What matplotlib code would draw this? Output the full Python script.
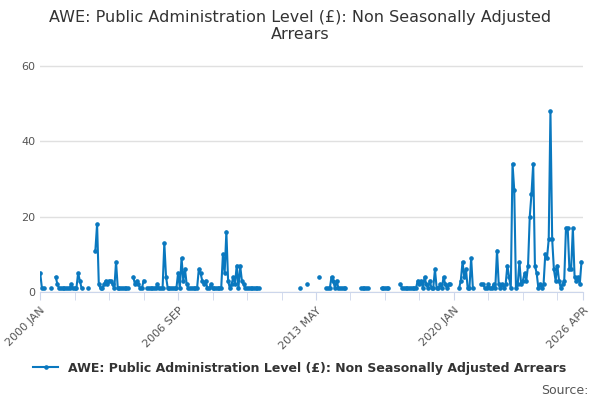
import matplotlib
matplotlib.use("Agg")
import matplotlib.pyplot as plt
import numpy as np
import pandas as pd

# monthly series, Jan 2000 .. Apr 2026; gaps are months with no value
seg_starts = [0, 6, 9, 28, 32, 54, 62, 123, 151, 155, 162, 166, 186, 198, 209, 243, 256]
seg_values = [
    [5, 1, 1],
    [1],
    [4, 2, 1, 1, 1, 1, 1, 1, 1, 2, 1, 1, 1, 5, 3, 1],
    [1],
    [11, 18, 2, 1, 1, 2, 3, 2, 3, 3, 2, 1, 8, 1, 1, 1, 1, 1, 1, 1],
    [4, 2, 3, 2, 1, 1, 3],
    [1, 1, 1, 1, 1, 1, 2, 1, 1, 1, 13, 4, 1, 1, 1, 1, 1, 1, 5, 1, 9, 3, 6, 2, 1, 1, 1, 1, 1,
     1, 6, 5, 3, 2, 3, 1, 1, 2, 1, 1, 1, 1, 1, 1, 10, 5, 16, 3, 1, 2, 4, 2, 7, 1, 7, 3, 2, 1, 1, 1, 1],
    [1, 1, 1, 1, 1],
    [1],
    [2],
    [4],
    [1, 1, 1, 4, 3, 1, 3, 1, 1, 1, 1, 1],
    [1, 1, 1, 1, 1],
    [1, 1, 1, 1, 1],
    [2, 1, 1, 1, 1, 1, 1, 1, 1, 1, 3, 2, 3, 1, 4, 2, 1, 3, 1, 1, 6, 1, 1, 2, 1, 4, 2, 1, 2, 2],
    [1, 3, 8, 4, 6, 1, 1, 9, 1],
    [2, 2, 1, 1, 2, 1, 1, 2, 1, 11, 2, 1, 2, 1, 2, 7, 4, 1,
     34, 27, 1, 2, 8, 2, 3, 5, 3, 7, 20, 26, 34, 7, 5, 1, 2, 1, 2, 10, 9, 14, 48, 14, 6, 3, 7,
     3, 1, 2, 3, 17, 17, 6, 6, 17, 4, 3, 4, 2, 8],
]
tick_labels = ["2000 JAN", "2006 SEP", "2013 MAY", "2020 JAN", "2026 APR"]

months = pd.date_range("2000-01-01", "2026-04-01", freq="MS")
vals = np.full(len(months), np.nan)
for s, v in zip(seg_starts, seg_values):
    vals[s:s + len(v)] = v[:len(months) - s]

blue = "#0a78bf"
fig = plt.figure(figsize=(6, 4), dpi=100)
ax = fig.add_axes([0.067, 0.27, 0.905, 0.58])
ax.plot(np.arange(len(months)), vals, color=blue, lw=1.5, marker="o", ms=2.3,
        label="AWE: Public Administration Level (£): Non Seasonally Adjusted Arrears")

ax.set_xlim(0, len(months) - 1)
ax.set_ylim(0, 61.5)
ax.set_yticks([0, 20, 40, 60])
ax.grid(axis="y", color="#e0e0e0", lw=1)
ax.set_axisbelow(True)
for s in ["top", "right", "left"]:
    ax.spines[s].set_visible(False)
ax.spines["bottom"].set_color("#ccd6eb")

ax.set_xticks([0, 80, 160, 240, len(months) - 1], labels=tick_labels)
ax.set_xticks(np.arange(0, len(months), 20), minor=True)
ax.tick_params(axis="x", which="both", color="#ccd6eb", length=6, labelsize=8, labelcolor="#555555")
ax.tick_params(axis="y", length=0, labelsize=8, labelcolor="#555555")
plt.setp(ax.get_xticklabels(), rotation=45, ha="right", rotation_mode="anchor")

fig.suptitle("AWE: Public Administration Level (£): Non Seasonally Adjusted\nArrears",
             fontsize=11.5, color="#333333", y=0.975)
fig.legend(loc="lower center", bbox_to_anchor=(0.5, 0.035), frameon=False,
           prop={"size": 9, "weight": "bold"}, labelcolor="#333333", handlelength=2)
fig.text(0.98, 0.015, "Source:", ha="right", fontsize=9, color="#555555")
fig.savefig("out.png")
